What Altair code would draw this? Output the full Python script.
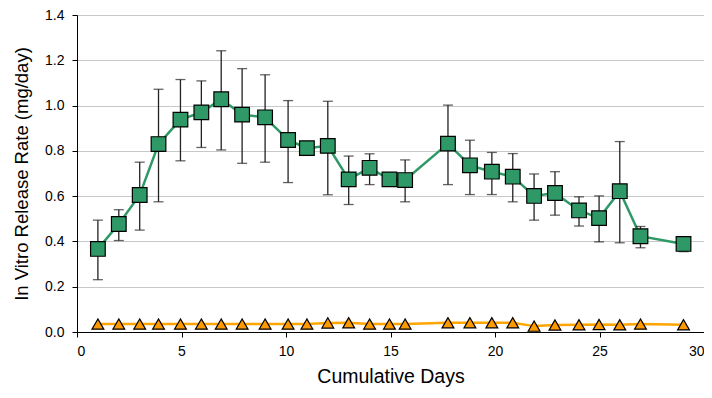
import altair as alt
import pandas as pd

days = [1, 2, 3, 3.9, 4.95, 5.95, 6.9, 7.9, 9, 10.1, 11, 12, 13, 14, 14.95, 15.7,
        17.75, 18.8, 19.85, 20.85, 21.87, 22.87, 24.02, 24.98, 25.97, 26.96, 29.02]
green = [0.367, 0.477, 0.605, 0.83, 0.938, 0.97, 1.028, 0.96, 0.948, 0.848, 0.812, 0.822,
         0.674, 0.725, 0.674, 0.671, 0.832, 0.736, 0.708, 0.686, 0.601, 0.614, 0.537,
         0.503, 0.622, 0.423, 0.389]
green_hi = [0.494, 0.54, 0.75, 1.072, 1.115, 1.109, 1.242, 1.163, 1.136, 1.022, 0.83, 1.019,
            0.777, 0.787, 0.69, 0.76, 1.002, 0.847, 0.793, 0.788, 0.698, 0.708, 0.597,
            0.601, 0.841, 0.466, 0.398]
green_lo = [0.231, 0.404, 0.45, 0.575, 0.756, 0.815, 0.804, 0.745, 0.75, 0.66, 0.78, 0.606,
            0.563, 0.651, 0.66, 0.575, 0.651, 0.607, 0.607, 0.575, 0.494, 0.516, 0.468,
            0.398, 0.394, 0.372, 0.355]
orange = [0.035, 0.035, 0.035, 0.035, 0.035, 0.035, 0.035, 0.035, 0.035, 0.035, 0.035, 0.04,
          0.041, 0.035, 0.035, 0.035, 0.041, 0.041, 0.041, 0.041, 0.026, 0.031, 0.032,
          0.033, 0.032, 0.035, 0.032]

x_ticks = [0, 5, 10, 15, 20, 25, 30]
y_ticks = [0.0, 0.2, 0.4, 0.6, 0.8, 1.0, 1.2, 1.4]

GREEN = "#2E9966"
ORANGE = "#FF9900"
FONT = "Liberation Sans"

df = pd.DataFrame({"day": days, "g": green, "hi": green_hi, "lo": green_lo, "o": orange})

xs = alt.Scale(domain=[0, 30], nice=False, zero=False)
ys = alt.Scale(domain=[0, 1.4], nice=False)

xax = alt.Axis(values=x_ticks, title="Cumulative Days", grid=False, tickSize=5,
               labelFontSize=14, titleFontSize=19.5, titleFontWeight="normal",
               labelPadding=7, titlePadding=9, domainColor="black", tickColor="black",
               labelColor="black", titleColor="black", labelFont=FONT, titleFont=FONT)
yax = alt.Axis(values=y_ticks, format=".1f", title="In Vitro Release Rate (mg/day)",
               grid=True, gridColor="#C8C8C8", tickSize=5, labelFontSize=14, titleFontSize=18.5,
               titleFontWeight="normal", labelPadding=8, titlePadding=13,
               domainColor="black", tickColor="black", labelColor="black",
               titleColor="black", labelFont=FONT, titleFont=FONT)

base = alt.Chart(df)

orange_line = base.mark_line(color="#FFA500", strokeWidth=2.5).encode(
    x=alt.X("day:Q", scale=xs, axis=xax), y=alt.Y("o:Q", scale=ys, axis=yax))
orange_pts = base.mark_point(shape="triangle-up", filled=True, color=ORANGE, stroke="black",
                             strokeWidth=1.2, size=140, opacity=1).encode(
    x=alt.X("day:Q", scale=xs), y=alt.Y("o:Q", scale=ys))

green_line = base.mark_line(color=GREEN, strokeWidth=2.5).encode(
    x=alt.X("day:Q", scale=xs), y=alt.Y("g:Q", scale=ys))
err = base.mark_rule(color="#222222", strokeWidth=1.3).encode(
    x=alt.X("day:Q", scale=xs), y=alt.Y("lo:Q", scale=ys), y2="hi:Q")
cap_hi = base.mark_tick(color="#222222", thickness=1.3, size=10, orient="horizontal").encode(
    x=alt.X("day:Q", scale=xs), y=alt.Y("hi:Q", scale=ys))
cap_lo = base.mark_tick(color="#222222", thickness=1.3, size=10, orient="horizontal").encode(
    x=alt.X("day:Q", scale=xs), y=alt.Y("lo:Q", scale=ys))
green_pts = base.mark_point(shape="square", filled=True, color=GREEN, stroke="black",
                            strokeWidth=1.2, size=215, opacity=1).encode(
    x=alt.X("day:Q", scale=xs), y=alt.Y("g:Q", scale=ys))

chart = alt.layer(orange_line, green_line, err, cap_hi, cap_lo, orange_pts, green_pts).properties(
    width=627, height=317,
    autosize=alt.AutoSizeParams(type="none"),
    padding={"left": 69, "top": 7, "right": 0, "bottom": 58},
).configure_view(stroke="#A8A8A8", strokeWidth=2).configure(background="white")

chart.save("out.html", embed_options={"renderer": "svg", "actions": False})
